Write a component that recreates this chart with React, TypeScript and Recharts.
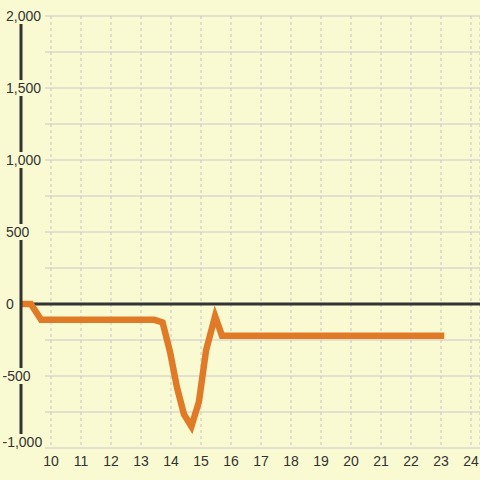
import React from 'react';
import { LineChart, Line, XAxis, YAxis, CartesianGrid, ReferenceLine } from 'recharts';

const hours = [9, 9.33, 9.67, 13.45, 13.72, 13.97, 14.2, 14.43, 14.68, 14.93, 15.17, 15.47, 15.7, 23];
const values = [0, 0, -110, -110, -128, -335, -580, -765, -850, -680, -320, -85, -220, -220];
const xTicks = [10, 11, 12, 13, 14, 15, 16, 17, 18, 19, 20, 21, 22, 23, 24];
const yTicks = [-1000, -750, -500, -250, 0, 250, 500, 750, 1000, 1250, 1500, 1750, 2000];
const yLabelStep = 500;

const data = hours.map((h, i) => ({ h, v: values[i] }));

const BG = '#fafad2';
const TEXT = '#333333';
const FONT = '"Liberation Sans", Arial, sans-serif';

const fmt = (v: number) => v.toLocaleString('en-US');

const charW = (c: string) => (c === ',' ? 3.9 : c === '-' ? 4.7 : 7.8);

const YTick = (props: any) => {
  const { y, payload } = props;
  const v = payload.value as number;
  if (v % yLabelStep !== 0) return null;
  const label = fmt(v);
  const w = label.split('').reduce((s, c) => s + charW(c), 0);
  const tx = v < 0 ? 2.5 : 6;
  const cy = v === yTicks[0] ? y - 6 : y;
  return (
    <g>
      <rect x={tx - 1} y={cy - 8} width={w + 2} height={16} fill={BG} />
      <text x={tx} y={cy} dy="0.35em" textAnchor="start" fontSize={14} fontFamily={FONT} fill={TEXT}>
        {label}
      </text>
    </g>
  );
};

const HLine = (props: any) => {
  const { x1, x2, y1 } = props;
  return <line x1={x1 + 24} x2={x2} y1={y1} y2={y1} stroke="#c8c8c8" strokeWidth={1} />;
};

export default function App() {
  return (
    <div style={{ position: 'absolute', left: 0, top: 0, width: 480, height: 480, background: BG }}>
      <LineChart
        width={480}
        height={480}
        data={data}
        margin={{ top: 16, right: 0, left: 0, bottom: 0 }}
      >
        <CartesianGrid
          stroke="#c4c4c4"
          strokeDasharray="3 3"
          horizontal={(p: any) => <HLine key={`h-${p.index}-${p.y1}`} {...p} />}
          vertical={true}
        />
        <XAxis
          dataKey="h"
          type="number"
          domain={[9, 24.3]}
          ticks={xTicks}
          allowDataOverflow
          axisLine={false}
          tickLine={false}
          height={32}
          tick={{ fontSize: 14, fill: TEXT, fontFamily: FONT }}
        />
        <ReferenceLine y={0} stroke="#333333" strokeWidth={3} />
        <Line
          type="linear"
          dataKey="v"
          stroke="#e07a26"
          strokeWidth={6.5}
          strokeLinecap="square"
          dot={false}
          activeDot={false}
          isAnimationActive={false}
        />
        <YAxis
          type="number"
          domain={[-1000, 2000]}
          ticks={yTicks}
          width={21}
          axisLine={{ stroke: '#333333', strokeWidth: 3 }}
          tickLine={false}
          tick={<YTick />}
          interval={0}
        />
      </LineChart>
    </div>
  );
}
